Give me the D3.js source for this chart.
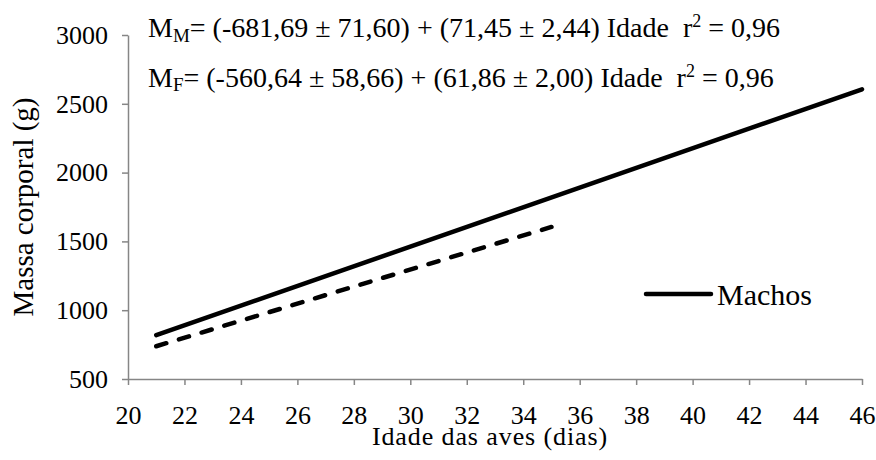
<!DOCTYPE html>
<html>
<head>
<meta charset="utf-8" />
<title>Massa corporal x idade</title>
<script src="https://d3js.org/d3.v7.min.js" charset="utf-8"></script>
<style>
    body { margin: 0; background: #fff; }
    svg text { font-family: "Liberation Serif", "Times New Roman", serif; fill: #000; }
    .axis path, .axis line { stroke: #868686; stroke-width: 1.5; }
</style>
</head>
<body>
<svg class="chart"></svg>
<script>

// data (fitted lines, endpoints)
var machosIdade = [21, 46];
var machosMassa = [819, 2605];
var femeasIdade = [21, 35];
var femeasMassa = [738, 1605];

var xTicks = [20, 22, 24, 26, 28, 30, 32, 34, 36, 38, 40, 42, 44, 46];
var yTicks = [500, 1000, 1500, 2000, 2500, 3000];

var width = 876, height = 460;
var serif = "'Liberation Serif', 'Times New Roman', serif";

var svg = d3.select(".chart")
    .attr("width", width)
    .attr("height", height);

var x = d3.scaleLinear().domain([20, 46]).range([128, 862]);
var y = d3.scaleLinear().domain([500, 3000]).range([379, 35]);

// axes
var xAxis = d3.axisBottom(x).tickValues(xTicks).tickFormat(d3.format("d"))
    .tickSize(6).tickSizeOuter(0).tickPadding(21);
var yAxis = d3.axisLeft(y).tickValues(yTicks).tickFormat(d3.format("d"))
    .tickSize(6).tickSizeOuter(0).tickPadding(14);

svg.append("g")
    .attr("class", "axis")
    .attr("transform", "translate(0," + y(500) + ")")
    .call(xAxis)
    .attr("font-family", serif)
    .attr("font-size", 26);

svg.append("g")
    .attr("class", "axis")
    .attr("transform", "translate(" + x(20) + ",0)")
    .call(yAxis)
    .attr("font-family", serif)
    .attr("font-size", 26);

// lines
var line = d3.line().x(function(d){ return x(d[0]); }).y(function(d){ return y(d[1]); });

svg.append("path")
    .datum(d3.zip(machosIdade, machosMassa))
    .attr("d", line)
    .attr("fill", "none")
    .attr("stroke", "#000")
    .attr("stroke-width", 4.5)
    .attr("stroke-linecap", "round");

svg.append("path")
    .datum(d3.zip(femeasIdade, femeasMassa))
    .attr("d", line)
    .attr("fill", "none")
    .attr("stroke", "#000")
    .attr("stroke-width", 4.5)
    .attr("stroke-linecap", "round")
    .attr("stroke-dasharray", "10.5,13.2");

// legend
svg.append("line")
    .attr("x1", 646).attr("x2", 711)
    .attr("y1", 294).attr("y2", 294)
    .attr("stroke", "#000")
    .attr("stroke-width", 4.5)
    .attr("stroke-linecap", "round");
svg.append("text")
    .attr("x", 717).attr("y", 305)
    .style("font-size", "30px")
    .text("Machos");

// axis titles
svg.append("text")
    .attr("x", 490).attr("y", 445)
    .attr("text-anchor", "middle")
    .style("font-size", "26px")
    .style("letter-spacing", "0.9px")
    .text("Idade das aves (dias)");

svg.append("text")
    .attr("transform", "translate(33,207) rotate(-90)")
    .attr("text-anchor", "middle")
    .style("font-size", "29px")
    .text("Massa corporal (g)");

// equations
function equation(yPos, sub, subDy, rest) {
    var t = svg.append("text")
        .attr("x", 148).attr("y", yPos)
        .style("font-size", "28px");
    t.append("tspan").text("M");
    t.append("tspan").attr("dy", subDy).style("font-size", "19px").text(sub);
    t.append("tspan").attr("dy", -subDy).text(rest);
    t.append("tspan").attr("dy", -10).style("font-size", "18px").text("2");
    t.append("tspan").attr("dy", 10).text(" = 0,96");
}
equation(37, "M", 5, "= (-681,69 ± 71,60) + (71,45 ± 2,44) Idade \u00a0r");
equation(87, "F", 4, "= (-560,64 ± 58,66) + (61,86 ± 2,00) Idade \u00a0r");

</script>
</body>
</html>
